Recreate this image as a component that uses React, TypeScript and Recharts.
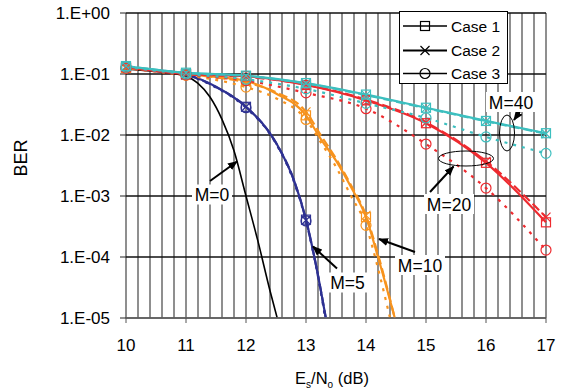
import { LineChart, Line, XAxis, YAxis, CartesianGrid } from 'recharts'

// Es/No (dB) vs BER. [dB, BER]
const xTicks = [10, 11, 12, 13, 14, 15, 16, 17]
const yTicks = [1, 1e-1, 1e-2, 1e-3, 1e-4, 1e-5]
const gridX = Array.from({ length: 36 }, (_, i) => 10 + i * 0.2)

const m0: [number, number][] = [
  [10, 0.12], [10.5, 0.11], [11, 0.092], [11.2, 0.07], [11.4, 0.042], [11.6, 0.018],
  [11.8, 0.0055], [12, 0.001], [12.2, 1.8e-4], [12.4, 2.8e-5], [12.52, 1e-5],
]

const m5c1: [number, number][] = [
  [10, 0.125], [10.5, 0.115], [11, 0.098], [11.5, 0.062], [12, 0.029], [12.5, 0.0075],
  [12.8, 0.0018], [13, 4.1e-4], [13.2, 5e-5], [13.33, 1e-5],
]
const m5c2: [number, number][] = [
  [10, 0.125], [10.5, 0.115], [11, 0.098], [11.5, 0.061], [12, 0.029], [12.5, 0.0074],
  [12.8, 0.0018], [13, 4e-4], [13.2, 5e-5], [13.33, 1e-5],
]
const m5c3: [number, number][] = [
  [10, 0.125], [10.5, 0.114], [11, 0.097], [11.5, 0.06], [12, 0.028], [12.5, 0.0072],
  [12.8, 0.0017], [13, 3.9e-4], [13.2, 4.8e-5], [13.32, 1e-5],
]

const m10c1: [number, number][] = [
  [10, 0.125], [10.5, 0.115], [11, 0.1], [11.5, 0.09], [12, 0.077], [12.5, 0.048],
  [13, 0.021], [13.25, 0.0085], [13.5, 0.0038], [13.75, 0.0014], [14, 4.5e-4],
  [14.2, 1e-4], [14.48, 1e-5],
]
const m10c2: [number, number][] = [
  [10, 0.125], [10.5, 0.115], [11, 0.1], [11.5, 0.088], [12, 0.073], [12.5, 0.05],
  [13, 0.024], [13.25, 0.0098], [13.5, 0.0041], [13.75, 0.0015], [14, 4.8e-4],
  [14.2, 1.1e-4], [14.48, 1e-5],
]
const m10c3: [number, number][] = [
  [10, 0.125], [10.5, 0.11], [11, 0.095], [11.5, 0.08], [12, 0.061], [12.5, 0.04],
  [13, 0.018], [13.25, 0.0075], [13.5, 0.003], [13.75, 0.001], [14, 3.3e-4],
  [14.2, 6.5e-5], [14.4, 1e-5],
]

const m20c1: [number, number][] = [
  [10, 0.13], [11, 0.1], [12, 0.092], [13, 0.066], [14, 0.037], [15, 0.0156], [16, 0.0035], [17, 3.7e-4],
]
const m20c2: [number, number][] = [
  [10, 0.13], [11, 0.1], [12, 0.09], [13, 0.067], [14, 0.038], [15, 0.016], [16, 0.0037], [17, 4.5e-4],
]
const m20c3: [number, number][] = [
  [10, 0.125], [11, 0.097], [12, 0.078], [13, 0.049], [14, 0.027], [15, 0.0071], [16, 0.00135], [17, 1.3e-4],
]

const m40c1: [number, number][] = [
  [10, 0.135], [11, 0.105], [12, 0.094], [13, 0.071], [14, 0.046], [15, 0.028], [16, 0.017], [17, 0.0107],
]
const m40c2: [number, number][] = [
  [10, 0.135], [11, 0.104], [12, 0.093], [13, 0.07], [14, 0.045], [15, 0.0275], [16, 0.0168], [17, 0.0105],
]
const m40c3: [number, number][] = [
  [10, 0.13], [11, 0.1], [12, 0.082], [13, 0.057], [14, 0.033], [15, 0.019], [16, 0.0093], [17, 0.005],
]

const FONT = '"Liberation Sans", Arial, Helvetica, sans-serif'
const BLUE = '#2e3192'
const ORANGE = '#f7931e'
const RED = '#ee2a2f'
const TEAL = '#3cbfbf'

type Shape = 'square' | 'cross' | 'circle' | 'none'

const caseStyle: Record<number, { dash?: string; shape: Shape }> = {
  1: { shape: 'square' },
  2: { dash: '9 4', shape: 'cross' },
  3: { dash: '3 6', shape: 'circle' },
}

function toRows(pts: [number, number][]) {
  return pts.map(([x, y]) => ({ x, y }))
}

function fmtTick(v: number): string {
  const e = Math.round(Math.log10(v))
  const s = String(Math.abs(e)).padStart(2, '0')
  return `1.E${e >= 0 ? '+' : '-'}${s}`
}

function MarkerGlyph({ shape, x, y, color }: { shape: Shape; x: number; y: number; color: string }) {
  if (shape === 'square')
    return <rect x={x - 4.5} y={y - 4.5} width={9} height={9} fill="none" stroke={color} strokeWidth={1.2} />
  if (shape === 'cross')
    return (
      <path
        d={`M${x - 4.5},${y - 4.5}L${x + 4.5},${y + 4.5}M${x - 4.5},${y + 4.5}L${x + 4.5},${y - 4.5}`}
        stroke={color}
        strokeWidth={1.2}
        fill="none"
      />
    )
  if (shape === 'circle') return <circle cx={x} cy={y} r={5} fill="none" stroke={color} strokeWidth={1.2} />
  return null
}

function makeDot(shape: Shape, color: string) {
  return (props: any) => {
    const { cx, cy, payload, index } = props
    if (shape === 'none' || !payload || !Number.isInteger(payload.x)) return <g key={`d${index}`} />
    return (
      <g key={`d${index}`}>
        <MarkerGlyph shape={shape} x={cx} y={cy} color={color} />
      </g>
    )
  }
}

const series = [
  { id: 'm0', pts: m0, color: '#000', c: 0 },
  { id: 'm5c3', pts: m5c3, color: BLUE, c: 3 },
  { id: 'm5c2', pts: m5c2, color: BLUE, c: 2 },
  { id: 'm5c1', pts: m5c1, color: BLUE, c: 1 },
  { id: 'm10c3', pts: m10c3, color: ORANGE, c: 3 },
  { id: 'm10c2', pts: m10c2, color: ORANGE, c: 2 },
  { id: 'm10c1', pts: m10c1, color: ORANGE, c: 1 },
  { id: 'm20c3', pts: m20c3, color: RED, c: 3 },
  { id: 'm20c2', pts: m20c2, color: RED, c: 2 },
  { id: 'm20c1', pts: m20c1, color: RED, c: 1 },
  { id: 'm40c3', pts: m40c3, color: TEAL, c: 3 },
  { id: 'm40c2', pts: m40c2, color: TEAL, c: 2 },
  { id: 'm40c1', pts: m40c1, color: TEAL, c: 1 },
]

function Tag({ x, y, w, text }: { x: number; y: number; w: number; text: string }) {
  return (
    <g>
      <rect x={x - w / 2} y={y - 10} width={w} height={20} fill="#fff" />
      <text x={x} y={y + 6.5} textAnchor="middle" fontSize={17.5} fontFamily={FONT} fill="#000">
        {text}
      </text>
    </g>
  )
}

function Arrow({ x1, y1, x2, y2 }: { x1: number; y1: number; x2: number; y2: number }) {
  return <line x1={x1} y1={y1} x2={x2} y2={y2} stroke="#000" strokeWidth={2} markerEnd="url(#ah)" />
}

function Overlay() {
  const legendRows: { label: string; shape: Shape; y: number; w: number }[] = [
    { label: 'Case 1', shape: 'square', y: 26, w: 1.5 },
    { label: 'Case 2', shape: 'cross', y: 50.5, w: 2.2 },
    { label: 'Case 3', shape: 'circle', y: 73.5, w: 1.5 },
  ]
  return (
    <svg width={568} height={390} style={{ position: 'absolute', left: 0, top: 0, pointerEvents: 'none' }}>
      <defs>
        <marker id="ah" markerWidth={10} markerHeight={8} refX={9} refY={4} orient="auto" markerUnits="userSpaceOnUse">
          <path d="M0,0L10,4L0,8Z" fill="#000" />
        </marker>
      </defs>

      {/* legend */}
      <rect x={399.5} y={11.5} width={108} height={72} fill="#fff" stroke="#000" strokeWidth={1} />
      {legendRows.map(r => (
        <g key={r.label}>
          <line x1={403} y1={r.y} x2={447} y2={r.y} stroke="#000" strokeWidth={r.w} />
          <MarkerGlyph shape={r.shape} x={425} y={r.y} color="#000" />
          <text x={451} y={r.y + 5.5} fontSize={15.5} fontFamily={FONT} fill="#000">
            {r.label}
          </text>
        </g>
      ))}

      {/* annotations */}
      <Arrow x1={210} y1={181} x2={237} y2={161.5} />
      <Tag x={212} y={194.5} w={40} text="M=0" />

      <Arrow x1={337} y1={268.5} x2={313} y2={246.5} />
      <Tag x={347.5} y={282.5} w={40} text="M=5" />

      <Arrow x1={415} y1={252} x2={379} y2={239} />
      <Tag x={420} y={265} w={50} text="M=10" />

      <ellipse cx={466} cy={158.5} rx={27.5} ry={7.5} fill="none" stroke="#000" strokeWidth={1} />
      <Arrow x1={430} y1={192} x2={453.5} y2={166.5} />
      <Tag x={449} y={204} w={50} text="M=20" />

      <ellipse cx={507} cy={133} rx={7.5} ry={18} fill="none" stroke="#000" strokeWidth={1} />
      <Arrow x1={522} y1={108.5} x2={514} y2={120} />
      <Tag x={511} y={102} w={50} text="M=40" />

      {/* axis titles */}
      <text
        x={0}
        y={0}
        transform="translate(27,158) rotate(-90)"
        textAnchor="middle"
        fontSize={18}
        fontFamily={FONT}
        fill="#000"
      >
        BER
      </text>
      <text x={332} y={384} textAnchor="middle" fontSize={16.5} fontFamily={FONT} fill="#000">
        E<tspan fontSize={10} dy={4}>s</tspan>
        <tspan dy={-4}>/N</tspan>
        <tspan fontSize={10} dy={4}>o</tspan>
        <tspan dy={-4}> (dB)</tspan>
      </text>
    </svg>
  )
}

export default function App() {
  return (
    <div style={{ position: 'relative', width: 568, height: 390, background: '#fff' }}>
      <style>{'body{margin:0}'}</style>
      <LineChart width={568} height={390} margin={{ top: 13, right: 22, bottom: 0, left: 0 }}>
        <CartesianGrid
          horizontal={false}
          vertical
          stroke="#6a6a6a"
          strokeWidth={1.5}
          verticalCoordinatesGenerator={({ xAxis, offset }: any) =>
            gridX.map(v =>
              xAxis && typeof xAxis.scale === 'function'
                ? xAxis.scale(v)
                : offset.left + ((v - 10) / 7) * offset.width,
            )
          }
        />
        <CartesianGrid horizontal vertical={false} stroke="#111" strokeWidth={1.3} />
        <XAxis
          dataKey="x"
          type="number"
          domain={[10, 17]}
          ticks={xTicks}
          height={72}
          tickSize={5}
          tickMargin={16}
          axisLine={{ stroke: '#707070', strokeWidth: 1.5 }}
          tickLine={{ stroke: '#555' }}
          tick={{ fontSize: 17, fontFamily: FONT, fill: '#000' }}
        />
        <YAxis
          type="number"
          scale="log"
          domain={[1e-5, 1]}
          ticks={yTicks}
          width={126}
          tickSize={6}
          tickMargin={10}
          axisLine={false}
          tickLine={{ stroke: '#222' }}
          tickFormatter={fmtTick}
          tick={{ fontSize: 17, fontFamily: FONT, fill: '#000' }}
        />
        {series.map(s => {
          const st = s.c === 0 ? { shape: 'none' as Shape, dash: undefined } : caseStyle[s.c]
          return (
            <Line
              key={s.id}
              data={toRows(s.pts)}
              dataKey="y"
              type="monotone"
              stroke={s.color}
              strokeWidth={s.c === 0 ? 1.6 : 2.2}
              strokeDasharray={st.dash}
              dot={makeDot(st.shape, s.color)}
              activeDot={false}
              isAnimationActive={false}
            />
          )
        })}
      </LineChart>
      <Overlay />
    </div>
  )
}
